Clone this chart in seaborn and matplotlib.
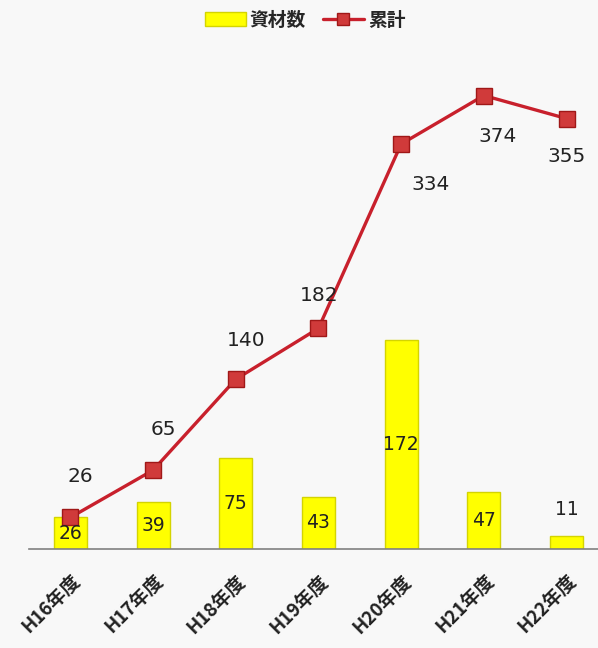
import numpy as np
import pandas as pd
import matplotlib
matplotlib.use("Agg")
import matplotlib.pyplot as plt
import seaborn as sns
from matplotlib.lines import Line2D
from matplotlib.patches import Patch

categories = ["H16年度", "H17年度", "H18年度", "H19年度", "H20年度", "H21年度", "H22年度"]
materials = [26, 39, 75, 43, 172, 47, 11]
cumulative = [26, 65, 140, 182, 334, 374, 355]
bar_name = "資材数"
line_name = "累計"

sns.set_style("white")
plt.rcParams['font.family'] = ['Noto Sans CJK JP', 'DejaVu Sans']

bg = "#f8f8f8"
fig = plt.figure(figsize=(5.98, 6.48), dpi=100, facecolor=bg)
ax = fig.add_axes([29/598, 99/648, 569/598, 485/648])
ax.set_facecolor(bg)

df = pd.DataFrame({"cat": categories, "n": materials})
sns.barplot(data=df, x="cat", y="n", ax=ax, color="#ffff00", width=0.40,
            edgecolor="#d4d400", linewidth=1.0, saturation=1)

xs = np.arange(len(categories))
sns.lineplot(x=xs, y=cumulative, ax=ax, color="#c8202c", linewidth=2.4,
             marker="s", markersize=11, markerfacecolor="#d03a3a",
             markeredgecolor="#a01818", markeredgewidth=1)

ax.set_xlim(-0.5, 6.38)
ax.set_ylim(0, 400)
ax.set_xlabel("")
ax.set_ylabel("")
ax.set_yticks([])
for s in ["top", "right", "left"]:
    ax.spines[s].set_visible(False)
ax.spines["bottom"].set_color("#808080")
ax.spines["bottom"].set_linewidth(1.2)
ax.tick_params(axis="x", length=0, pad=16)
ax.set_xticks(xs)
ax.set_xticklabels(categories, rotation=45, ha="right", rotation_mode="anchor",
                   fontsize=13.5, fontweight="bold", color="#222222")

# bar labels
for i, v in enumerate(materials):
    if v < 20:
        ax.annotate(str(v), (i, v), xytext=(0, 26), textcoords="offset pixels",
                    ha="center", va="center", fontsize=13.5, color="#222222",
                    family=["DejaVu Sans"])
    else:
        ax.annotate(str(v), (i, v / 2), ha="center", va="center",
                    fontsize=13.5, color="#222222", family=["DejaVu Sans"])

# line labels
offsets = [(10, 41), (10, 41), (10, 39), (1, 33), (29, -40), (14, -41), (0, -38)]
for i, (v, off) in enumerate(zip(cumulative, offsets)):
    ax.annotate(str(v), (i, v), xytext=off, textcoords="offset pixels",
                ha="center", va="center", fontsize=14.5, color="#222222",
                family=["DejaVu Sans"])

handles = [Patch(facecolor="#ffff00", edgecolor="#d4d400", label=bar_name),
           Line2D([0], [0], color="#c8202c", linewidth=2.4, marker="s",
                  markersize=9, markerfacecolor="#d03a3a",
                  markeredgecolor="#a01818", label=line_name)]
fig.legend(handles=handles, loc="center", bbox_to_anchor=(0.51, 1 - 20/648),
           ncol=2, frameon=False, handlelength=2.2, handletextpad=0.2,
           columnspacing=0.9, prop={"weight": "bold", "size": 13.5})

fig.savefig("out.png", dpi=100, facecolor=bg)
